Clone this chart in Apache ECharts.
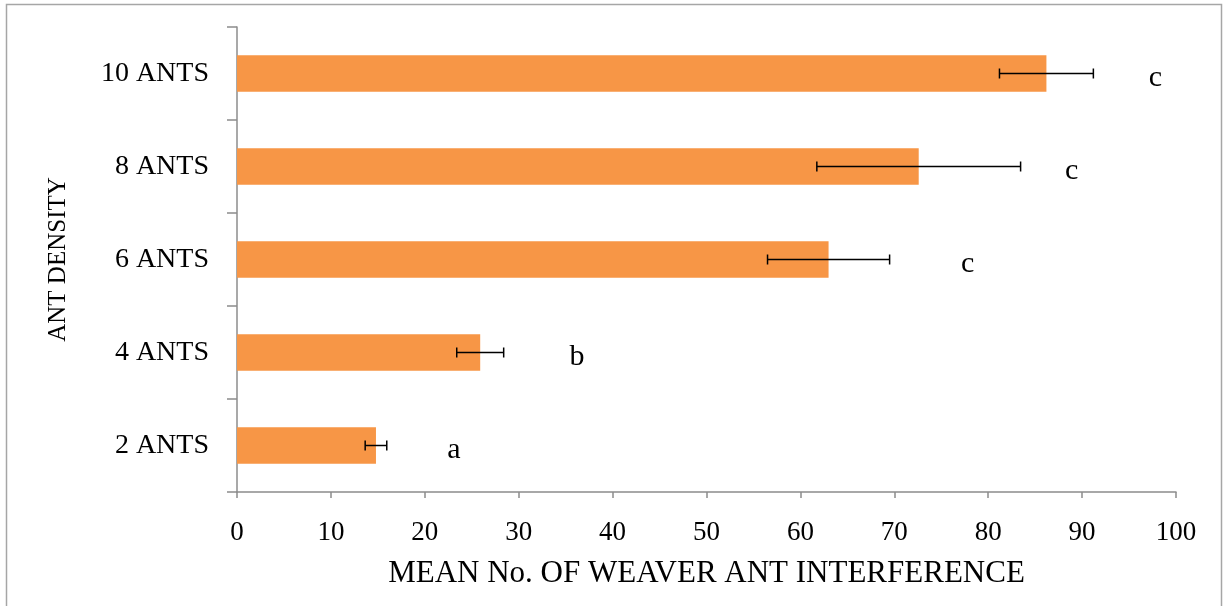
<!DOCTYPE html>
<html>
<head>
<meta charset="utf-8">
<script src="https://cdn.jsdelivr.net/npm/echarts@6/dist/echarts.min.js"></script>
<style>
  html, body { margin: 0; padding: 0; background: #fff; }
  #chart { width: 1227px; height: 606px; }
</style>
</head>
<body>
<div id="chart"></div>
<script>
// Ant density treatments (bottom to top)
const categories = ['2 ANTS', '4 ANTS', '6 ANTS', '8 ANTS', '10 ANTS'];
// Mean number of weaver ant interference events
const means = [14.8, 25.9, 63.0, 72.6, 86.2];
// Standard error of each mean
const errors = [1.15, 2.5, 6.5, 10.85, 5.0];
// Significance groups and where each letter sits along the value axis
const letters = ['a', 'b', 'c', 'c', 'c'];
const letterX = [23.1, 36.2, 77.8, 88.9, 97.8];
// Value axis ticks
const xTicks = { min: 0, max: 100, interval: 10 };

const FONT = '"Liberation Serif", "Times New Roman", serif';
const AXIS = '#8c8c8c';

const chart = echarts.init(document.getElementById('chart'), null, { renderer: 'canvas' });

chart.setOption({
  backgroundColor: '#fff',
  animation: false,
  graphic: [{
    type: 'rect',
    shape: { x: 6.5, y: 4.5, width: 1215, height: 620 },
    style: { fill: 'none', stroke: '#a6a6a6', lineWidth: 1.5 },
    silent: true
  }],
  grid: { left: 237, right: 51, top: 27, bottom: 114 },
  xAxis: {
    type: 'value',
    min: xTicks.min, max: xTicks.max, interval: xTicks.interval,
    name: 'MEAN No. OF WEAVER ANT INTERFERENCE',
    nameLocation: 'middle',
    nameGap: 66,
    nameTextStyle: { fontFamily: FONT, fontSize: 31, color: '#000' },
    axisLine: { show: true, lineStyle: { color: AXIS, width: 1.5 } },
    axisTick: { show: true, length: 6, lineStyle: { color: AXIS, width: 1.5 } },
    axisLabel: { fontFamily: FONT, fontSize: 27, color: '#000', margin: 27 },
    splitLine: { show: false }
  },
  yAxis: {
    type: 'category',
    data: categories,
    name: 'ANT DENSITY',
    nameLocation: 'middle',
    nameGap: 166,
    nameRotate: 90,
    nameTextStyle: { fontFamily: FONT, fontSize: 25, color: '#000' },
    axisLine: { show: true, lineStyle: { color: AXIS, width: 1.5 } },
    axisTick: { show: true, length: 10, inside: false, alignWithLabel: false, lineStyle: { color: AXIS, width: 1.5 } },
    axisLabel: { fontFamily: FONT, fontSize: 28, color: '#000', margin: 28 },
    splitLine: { show: false }
  },
  series: [
    {
      type: 'bar',
      data: means,
      barWidth: '39%',
      itemStyle: { color: '#F79646' },
      silent: true
    },
    {
      // error bars with end caps
      type: 'custom',
      silent: true,
      data: means.map((m, i) => [i, m - errors[i], m + errors[i]]),
      renderItem: function (params, api) {
        const idx = api.value(0);
        const lo = api.coord([api.value(1), idx]);
        const hi = api.coord([api.value(2), idx]);
        const y = lo[1];
        const cap = 5;
        const style = { stroke: '#000', lineWidth: 1.5, fill: 'none' };
        return {
          type: 'group',
          children: [
            { type: 'line', shape: { x1: lo[0], y1: y, x2: hi[0], y2: y }, style: style },
            { type: 'line', shape: { x1: lo[0], y1: y - cap, x2: lo[0], y2: y + cap }, style: style },
            { type: 'line', shape: { x1: hi[0], y1: y - cap, x2: hi[0], y2: y + cap }, style: style }
          ]
        };
      },
      z: 5
    },
    {
      // significance letters
      type: 'custom',
      silent: true,
      data: letterX.map((x, i) => [x, i]),
      renderItem: function (params, api) {
        const p = api.coord([api.value(0), api.value(1)]);
        return {
          type: 'text',
          style: {
            x: p[0], y: p[1] + 5,
            text: letters[params.dataIndex],
            fontFamily: FONT, fontSize: 30, fill: '#000',
            align: 'center', verticalAlign: 'middle'
          }
        };
      },
      z: 6
    }
  ]
});
</script>
</body>
</html>
